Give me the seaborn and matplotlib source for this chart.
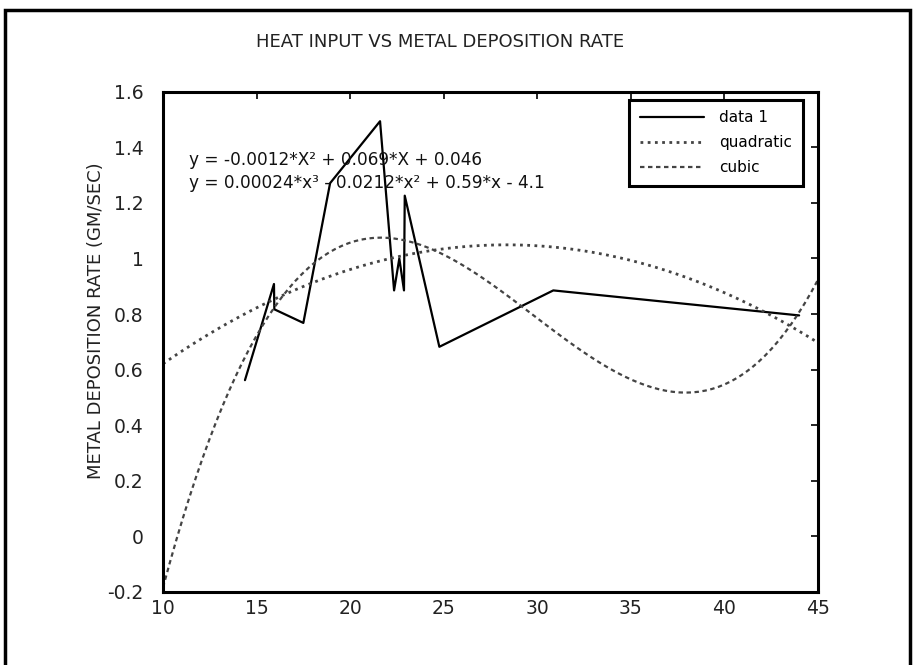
# %%
import numpy as np
import pandas as pd
import seaborn as sns
import matplotlib.pyplot as plt
from matplotlib.patches import Rectangle

sns.set_style('white')
plt.rcParams['font.family'] = ['DejaVu Sans']
plt.rcParams['text.color'] = 'black'
plt.rcParams['axes.labelcolor'] = 'black'

# %%
heat_input = [14.38, 15.93, 15.95, 17.5, 18.93, 21.6, 22.35, 22.63, 22.88, 22.92, 24.77, 30.86, 44.0]
dep_rate = [0.562, 0.908, 0.817, 0.768, 1.271, 1.494, 0.885, 1.0, 0.885, 1.226, 0.682, 0.885, 0.795]
eq_quad = 'y = -0.0012*X\u00b2 + 0.069*X + 0.046'
eq_cubic = 'y = 0.00024*x\u00b3 - 0.0212*x\u00b2 + 0.59*x - 4.1'
xticks = [10, 15, 20, 25, 30, 35, 40, 45]
yticks = [-0.2, 0, 0.2, 0.4, 0.6, 0.8, 1, 1.2, 1.4, 1.6]

df = pd.DataFrame({'heat': heat_input, 'rate': dep_rate})

# %%
fig = plt.figure(figsize=(9.21, 6.65), dpi=100)
ax = fig.add_axes([0.177, 0.110, 0.711, 0.752])
ax.set_xlim(10, 45)
ax.set_ylim(-0.2, 1.6)

sns.lineplot(x='heat', y='rate', data=df, sort=False, color='black', lw=1.6,
             ax=ax, label='data 1')
sns.regplot(x='heat', y='rate', data=df, order=2, ci=None, scatter=False,
            truncate=False, ax=ax, label='quadratic',
            line_kws={'color': '#444444', 'ls': (0, (1, 1.6)), 'lw': 2.0})
sns.regplot(x='heat', y='rate', data=df, order=3, ci=None, scatter=False,
            truncate=False, ax=ax, label='cubic',
            line_kws={'color': '#444444', 'ls': (0, (2, 1.6)), 'lw': 1.6})

ax.set_xlim(10, 45)
ax.set_ylim(-0.2, 1.6)
ax.set_xticks(xticks)
ax.set_yticks(yticks)
ax.set_yticklabels([f'{v:g}' for v in yticks])
ax.tick_params(direction='in', length=5, width=1.2, top=True, right=True,
               labelsize=13.5, colors='black', labelcolor='#222222')
ax.tick_params(axis='y', pad=14)
ax.tick_params(axis='x', pad=5)
for s in ax.spines.values():
    s.set_color('black')
    s.set_linewidth(2.2)

ax.set_title('HEAT INPUT VS METAL DEPOSITION RATE', fontsize=13, pad=32,
             color='#222222', x=0.423)
ax.set_xlabel('')
ax.set_ylabel('METAL DEPOSITION RATE (GM/SEC)', fontsize=13, labelpad=8,
              color='#222222')
ax.yaxis.set_label_coords(-0.088, 0.542)

ax.text(11.4, 1.355, eq_quad, fontsize=12.2, va='center', color='#111111')
ax.text(11.4, 1.272, eq_cubic, fontsize=12.2, va='center', color='#111111')

leg = ax.legend(loc='upper right', bbox_to_anchor=(0.977, 0.984),
                borderaxespad=0, fontsize=11, fancybox=False, framealpha=1,
                edgecolor='black', handlelength=4.2, handletextpad=1.0,
                labelspacing=0.65, borderpad=0.7)
leg.get_frame().set_linewidth(2.2)

fig.patches.append(Rectangle((5 / 921, -0.05), 905 / 921, 1 - 10 / 665 + 0.05,
                             transform=fig.transFigure, fill=False,
                             edgecolor='black', lw=2.5))

plt.savefig('out.png', dpi=100, facecolor='white')
